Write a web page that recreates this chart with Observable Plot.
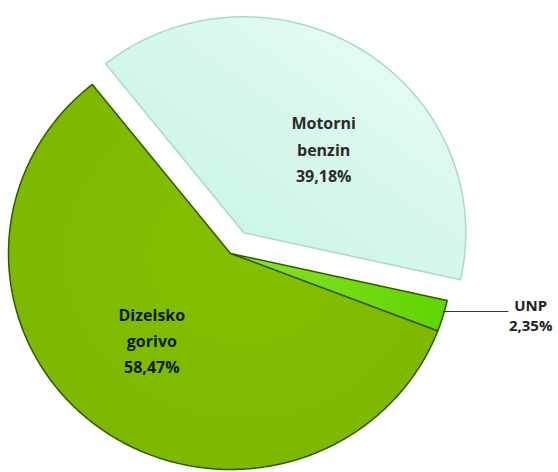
<!DOCTYPE html>
<html>
<head>
<meta charset="utf-8">
<script src="https://cdn.jsdelivr.net/npm/d3@7"></script>
<script src="https://cdn.jsdelivr.net/npm/@observablehq/plot@0.6"></script>
<style>
  html, body { margin: 0; padding: 0; background: #fff; }
  #chart svg { display: block; }
</style>
</head>
<body>
<div id="chart"></div>
<script>
// ---- data ----
const categories = ["Motorni benzin", "UNP", "Dizelsko gorivo"];
const labelLines = ["Motorni\nbenzin", "UNP", "Dizelsko\ngorivo"];
const shares = [39.18, 2.35, 58.47];
const shareLabels = ["39,18%", "2,35%", "58,47%"];
const exploded = [true, false, false];

// ---- geometry derived from the data ----
const startDeg = -38.5;              // compass angle of first slice start
const explode = 0.113;               // radial offset for exploded slice (radius units)
const total = d3.sum(shares);
let acc = 0;
const slices = categories.map((c, i) => {
  const a0 = (startDeg + acc / total * 360) * Math.PI / 180;
  acc += shares[i];
  const a1 = (startDeg + acc / total * 360) * Math.PI / 180;
  const mid = (a0 + a1) / 2;
  const off = exploded[i] ? explode : 0;
  return {cat: c, i, a0, a1, mid, ox: off * Math.sin(mid), oy: off * Math.cos(mid)};
});

const polyPts = [];
for (const s of slices) {
  polyPts.push({cat: s.cat, x: s.ox, y: s.oy});
  const n = Math.max(4, Math.ceil((s.a1 - s.a0) / 0.01));
  for (let k = 0; k <= n; k++) {
    const a = s.a0 + (s.a1 - s.a0) * k / n;
    polyPts.push({cat: s.cat, x: s.ox + Math.sin(a), y: s.oy + Math.cos(a)});
  }
  polyPts.push({cat: s.cat, x: s.ox, y: s.oy});
}

const labelOf = s => ({
  cat: s.cat,
  x: s.ox + 0.5 * Math.sin(s.mid),
  y: s.oy + 0.5 * Math.cos(s.mid),
  text: labelLines[s.i] + "\n" + shareLabels[s.i]
});
const motLabel = [labelOf(slices[0])];
const dizLabel = [labelOf(slices[2])];
const unp = slices[1];
const leader = [{
  x1: Math.sin(unp.mid), y1: Math.cos(unp.mid) + 0.02,
  x2: 1.252, y2: Math.cos(unp.mid) + 0.02
}];
const outside = [{
  x: 1.352, y: Math.cos(unp.mid) + 0.02,
  text: labelLines[unp.i] + "\n" + shareLabels[unp.i]
}];

const fills = {"Motorni benzin": "url(#gMot)", "UNP": "url(#gUnp)", "Dizelsko gorivo": "url(#gDiz)"};
const strokes = {"Motorni benzin": "#a9d9cb", "UNP": "#2f5a00", "Dizelsko gorivo": "#2f5a00"};

const cx = 230, cy = 253, rx = 222, ry = 216;
const font = "'Open Sans', sans-serif";

const chart = Plot.plot({
  width: 558,
  height: 472,
  margin: 0,
  x: {domain: [-1, 1], range: [cx - rx, cx + rx], axis: null},
  y: {domain: [-1, 1], range: [cy + ry, cy - ry], axis: null},
  marks: [
    () => {
      const svgNS = "http://www.w3.org/2000/svg";
      const defs = document.createElementNS(svgNS, "defs");
      defs.innerHTML = `
        <linearGradient id="gMot" x1="0" y1="1" x2="1" y2="0">
          <stop offset="0" stop-color="#c3f4df"/>
          <stop offset="0.6" stop-color="#d9f8ee"/>
          <stop offset="1" stop-color="#eefcf8"/>
        </linearGradient>
        <radialGradient id="gDiz" cx="0.55" cy="0.45" r="0.7">
          <stop offset="0" stop-color="#84bf00"/>
          <stop offset="0.85" stop-color="#7db800"/>
          <stop offset="1" stop-color="#6aa300"/>
        </radialGradient>
        <linearGradient id="gUnp" x1="0" y1="0" x2="1" y2="0">
          <stop offset="0" stop-color="#8ce02a"/>
          <stop offset="1" stop-color="#5fd400"/>
        </linearGradient>`;
      return defs;
    },
    Plot.line(polyPts, {
      x: "x", y: "y", z: "cat",
      fill: d => fills[d.cat],
      stroke: d => strokes[d.cat],
      strokeWidth: 1.5,
      curve: "linear"
    }),
    Plot.text(motLabel, {
      x: "x", y: "y", text: "text",
      fill: "#2b2b2b", fontSize: 16, fontWeight: "bold", fontFamily: font,
      lineHeight: 1.65, dx: 21, dy: 6
    }),
    Plot.text(dizLabel, {
      x: "x", y: "y", text: "text",
      fill: "#0d1a00", fontSize: 16, fontWeight: "bold", fontFamily: font,
      lineHeight: 1.65, dx: -13, dy: -2
    }),
    Plot.link(leader, {x1: "x1", y1: "y1", x2: "x2", y2: "y2", stroke: "#333", strokeWidth: 1}),
    Plot.text(outside, {
      x: "x", y: "y", text: "text",
      fill: "#222", fontSize: 15, fontWeight: "bold", fontFamily: font,
      lineHeight: 1.32, dy: 3
    })
  ]
});
document.getElementById("chart").appendChild(chart);
</script>
</body>
</html>
